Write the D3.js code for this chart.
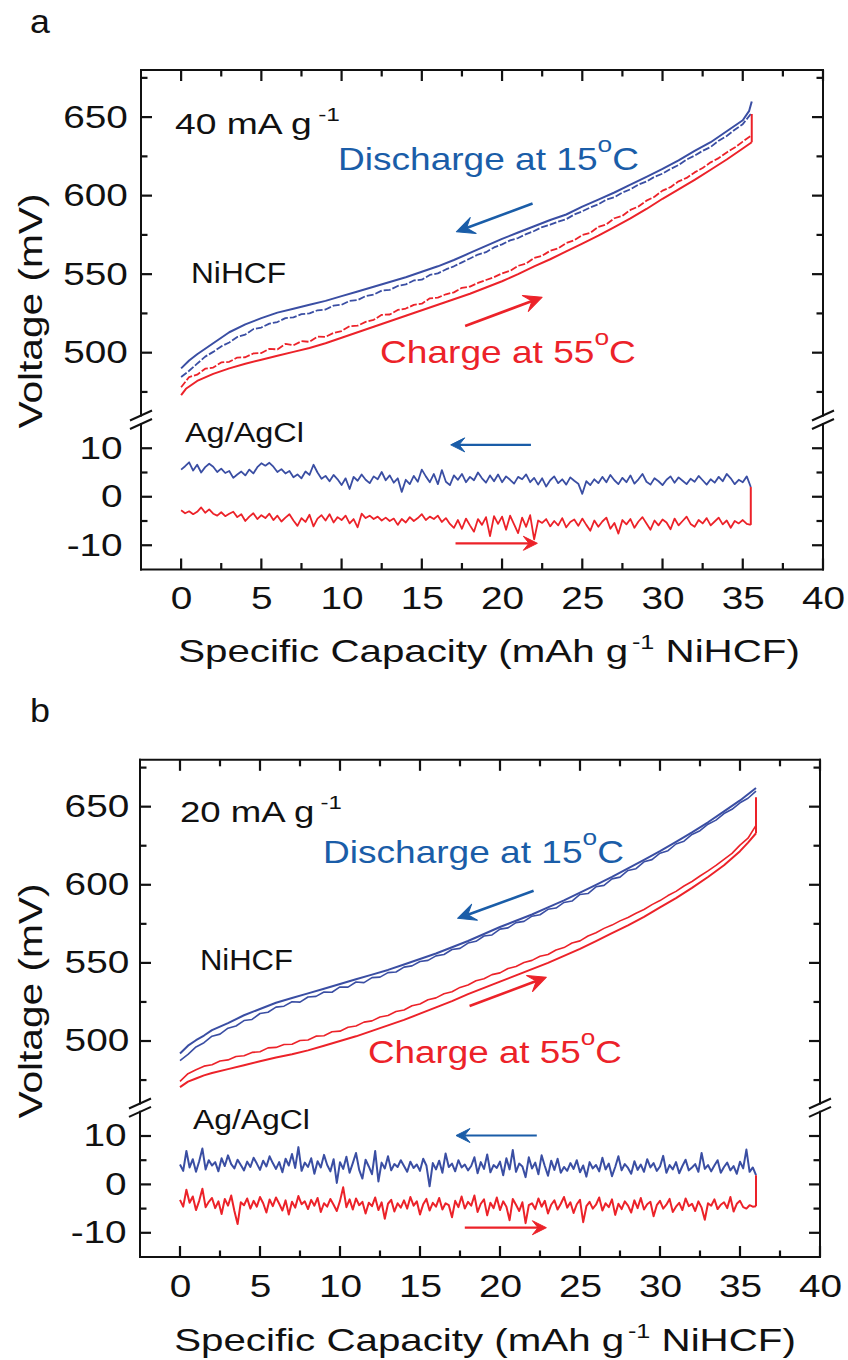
<!DOCTYPE html>
<html>
<head>
<meta charset="utf-8">
<script src="https://cdn.jsdelivr.net/npm/d3@7"></script>
<style>
  body { margin: 0; background: #fff; }
  text { font-family: "Liberation Sans", Arial, sans-serif; }
</style>
</head>
<body>
<svg id="chart" width="848" height="1360"></svg>
<script>
// axis domains and ticks (same for both panels)
const xDomain = [-2.5, 40];
const upDomain = [460, 680];
const loDomain = [-15, 15];
const xTicks = [0, 5, 10, 15, 20, 25, 30, 35, 40];
const xMinor = [2.5, 7.5, 12.5, 17.5, 22.5, 27.5, 32.5, 37.5];
const upTicks = [500, 550, 600, 650];
const upMinor = [475, 525, 575, 625, 675];
const loTicks = [-10, 0, 10];
const loMinor = [-5, 5];

// ---- panel a : 40 mA g-1 ----
const blueSolidA_x = [0, 0.5, 1, 2, 3, 4, 5, 6, 7, 8, 9, 10, 11, 12, 13, 14, 15, 16, 17, 18, 19, 20,
  21, 22, 23, 24, 25, 26, 27, 28, 29, 30, 31, 32, 33, 34, 35, 35.4, 35.56];
const blueSolidA = [490, 495, 499, 506, 513, 518, 522, 525.5, 528, 530.5, 533, 536, 539, 542, 545, 548,
  551.5, 555, 559, 563.5, 568, 572.5, 576.5, 580.5, 584.5, 588, 593, 597.5, 602, 607, 612, 617, 622.5,
  628.5, 634, 641, 648, 654, 660];
const redSolidA_x = [0, 0.3, 1, 2, 3, 4, 5, 6, 7, 8, 9, 10, 11, 12, 13, 14, 15, 16, 17, 18, 19, 20,
  21, 22, 23, 24, 25, 26, 27, 28, 29, 30, 31, 32, 33, 34, 35, 35.56];
const redSolidA = [473, 477, 482, 486.5, 490, 493, 495.5, 498, 500.5, 503, 506, 509.5, 513, 516.5, 520,
  523.5, 527, 530.5, 534, 537.5, 541.5, 545.5, 550, 555, 559.5, 564.5, 569.5, 574.5, 580, 585.5, 591.5,
  598, 604, 610, 616.5, 623, 630, 634];
// noisy (dashed) traces, one value every 0.5 mAh/g from 0
const blueNoisyA = [484.5, 488.5, 493, 497.5, 500.5, 504, 506.5, 510, 511.5, 515,
  516, 518.5, 519.5, 522, 522.5, 524.5, 525, 527, 527.5, 530,
  530.5, 533, 533.5, 536, 537, 539.5, 540, 542.5, 543.5, 546,
  546.5, 549.5, 550.5, 553, 555, 557.5, 560, 562.5, 564, 567,
  569, 571.5, 573, 575.5, 577.5, 580, 581.5, 583.5, 585, 588,
  590, 592.5, 594.5, 597.5, 599, 602, 604, 607, 609, 612,
  614, 617, 619.5, 623, 625.5, 628.5, 631, 635, 638, 642,
  645.5, 652];
const redNoisyA = [478, 484.5, 486, 489.8, 490.5, 493.8, 494.2, 496.9, 497.1, 499.5,
  499.8, 502.4, 502.1, 505.6, 504.7, 507.3, 506.9, 510.2, 510.1, 512.6,
  513.8, 516.9, 517.2, 519.6, 520.9, 524.1, 524.3, 527.2, 528.1, 530.4,
  531.2, 534.6, 535.1, 537.2, 538.4, 541.3, 542.1, 544.4, 546.3, 548.1,
  550.5, 552.1, 555.3, 556.8, 560.4, 561.7, 564.9, 566.4, 569.8, 571.6,
  574.9, 576.3, 580.1, 581.7, 585.6, 587.2, 590.9, 593.1, 596.8, 599.3,
  603.2, 605.4, 609.1, 611.3, 614.8, 617.6, 621.2, 623.9, 627.5, 630.6,
  634.4, 638];
const jumpUpA = [634, 652];
// Ag/AgCl traces, one value every 0.25 mAh/g from 0
const blueLowA = [5.6, 6.3, 7.1, 5.4, 6.6, 5.0, 6.1, 6.8, 6.2, 5.1,
  5.8, 4.9, 5.3, 3.9, 4.6, 5.2, 4.4, 5.6, 4.8, 6.1,
  6.9, 6.4, 7.0, 6.2, 5.1, 5.7, 4.8, 5.3, 4.0, 4.6,
  3.8, 5.2, 4.5, 6.6, 5.0, 3.7, 4.3, 3.2, 4.5, 3.6,
  2.4, 3.8, 1.6, 4.1, 3.3, 4.6, 3.5, 2.8, 4.2, 3.6,
  5.1, 3.4, 4.4, 2.9, 3.8, 1.0, 3.5, 2.6, 4.3, 3.1,
  5.6, 4.2, 3.0, 4.7, 2.6, 5.5, 3.1, 2.4, 4.4, 3.5,
  4.7, 3.0, 4.1, 3.4, 5.0, 3.8, 2.9, 4.4, 3.2, 4.6,
  3.0, 4.2, 3.5, 2.7, 4.1, 3.6, 4.6, 3.0, 3.9, 2.5,
  3.8, 2.1, 3.4, 4.2, 2.8, 3.6, 2.5, 4.0, 3.3, 2.7,
  0.6, 3.2, 2.4, 3.6, 2.8, 4.1, 3.0, 4.5, 3.4, 2.6,
  3.9, 3.0, 4.4, 2.7, 3.6, 4.7, 3.1, 2.5, 3.8, 3.2,
  2.4, 3.5, 4.2, 2.9, 4.0, 3.3, 2.6, 3.7, 3.1, 4.3,
  3.4, 2.5, 3.6, 2.9, 4.1, 3.2, 4.7, 3.8, 2.6, 3.5,
  3.0, 4.2, 2.0];
const redLowA = [-2.8, -3.4, -3.0, -3.6, -3.1, -2.2, -3.3, -2.6, -3.5, -3.9,
  -3.2, -4.0, -3.5, -3.1, -4.2, -3.6, -5.0, -4.1, -3.4, -4.6,
  -3.8, -4.4, -3.5, -4.8, -3.9, -5.1, -4.3, -3.6, -4.9, -6.0,
  -4.4, -5.2, -3.7, -6.1, -4.5, -3.8, -4.9, -3.6, -5.3, -4.2,
  -4.8, -3.9, -5.5, -4.6, -6.3, -3.5, -4.4, -3.9, -4.6, -4.1,
  -4.9, -4.3, -5.0, -4.5, -5.8, -4.6, -5.3, -4.2, -5.0, -4.4,
  -3.6, -4.8, -4.1, -4.6, -3.9, -5.2, -4.4, -5.6, -6.4, -4.8,
  -6.6, -4.5, -5.9, -7.2, -4.6, -5.8, -4.2, -8.1, -4.0, -5.6,
  -4.1, -6.8, -3.9, -5.7, -7.5, -4.3, -6.2, -3.8, -8.8, -4.9,
  -5.4, -4.6, -6.1, -5.0, -5.9, -4.4, -6.3, -5.2, -4.7, -6.0,
  -4.5, -5.8, -7.0, -4.9, -6.2, -5.1, -4.3, -6.6, -5.4, -7.6,
  -4.8, -5.7, -4.6, -6.4, -5.1, -4.2, -5.5, -6.8, -4.9, -5.9,
  -4.7, -5.3, -6.7, -4.5, -5.9, -5.0, -4.1, -5.6, -6.2, -4.8,
  -5.5, -4.4, -5.9, -5.1, -4.3, -5.7, -4.9, -6.4, -5.0, -5.5,
  -4.8, -5.6, -5.8];

// ---- panel b : 20 mA g-1 ----
const blueSolidB_x = [0, 0.5, 1, 1.5, 2, 3, 4, 5, 6, 7, 8, 9, 10, 11, 12, 13, 14, 15, 16, 17, 18, 19,
  20, 21, 22, 23, 24, 25, 26, 27, 28, 29, 30, 31, 32, 33, 34, 35, 36];
const blueSolidB = [492, 497, 500.5, 503.5, 507, 511.5, 516.5, 520.5, 524.5, 527.5, 530.5, 533.5, 536.5,
  539.5, 542.5, 545.5, 549, 552.5, 556, 560, 564, 568.5, 573, 577, 581, 585.5, 590, 595, 600, 605,
  610.5, 616, 621.5, 627.5, 633.5, 640, 647, 654, 662];
const redSolidB_x = [0, 0.5, 1, 1.5, 2, 3, 4, 5, 6, 7, 8, 9, 10, 11, 12, 13, 14, 15, 16, 17, 18, 19,
  20, 21, 22, 23, 24, 25, 26, 27, 28, 29, 30, 31, 32, 33, 34, 35, 35.5, 36];
const redSolidB = [470.5, 474, 476, 478, 479.5, 482, 484.5, 487, 489.5, 491.5, 494, 497, 500, 503, 506.5,
  510, 513.5, 517.5, 521.5, 525.5, 530, 534, 538, 542, 546, 550, 554.5, 559, 564, 569, 574, 579.5,
  585.5, 591.5, 598, 605, 612.5, 621.5, 627, 633];
const blueNoisyB = [487.5, 491.5, 496.2, 498.9, 503.1, 504.4, 508.2, 509.6, 513.1, 513.8,
  517.6, 518.4, 521.7, 522.3, 525.1, 524.9, 528.2, 528.6, 531.4, 531.2,
  534.6, 534.5, 537.8, 537.4, 540.6, 540.9, 543.8, 544.2, 547.3, 548.1,
  550.9, 551.6, 554.5, 555.4, 558.6, 559.3, 562.7, 563.8, 567.2, 567.9,
  571.6, 572.4, 575.8, 576.6, 579.9, 580.8, 584.3, 585.1, 588.7, 589.6,
  593.8, 594.4, 598.7, 599.6, 603.8, 604.9, 609.2, 610.3, 614.7, 616.1,
  620.2, 621.8, 626.1, 627.9, 632.2, 634.6, 638.8, 641.4, 645.6, 648.3,
  652.5, 655.4, 660];
const redNoisyB = [474.2, 479.1, 481.6, 483.9, 484.8, 487.2, 487.9, 490.1, 490.6, 492.7,
  493.1, 495.6, 495.9, 497.8, 497.9, 500.3, 500.6, 503.1, 503.4, 505.9,
  506.3, 508.8, 509.6, 512.1, 512.9, 515.4, 516.3, 518.9, 519.8, 522.6,
  523.7, 526.4, 527.6, 530.2, 531.5, 534.3, 535.9, 538.6, 539.8, 542.5,
  543.6, 546.4, 547.7, 550.3, 551.6, 554.2, 555.4, 558.3, 559.8, 562.7,
  564.1, 567.2, 569.3, 572.1, 574.2, 576.9, 579.1, 581.8, 584.2, 587.3,
  589.9, 593.1, 595.8, 599.2, 602.1, 605.6, 608.9, 612.4, 616.3, 620.1,
  625.4, 629.8, 638];
const jumpUpB = [633, 656];
// Ag/AgCl traces, one value every 0.2 mAh/g from 0
const blueLowB = [4.1, 2.8, 6.9, 3.5, 5.2, 2.6, 4.8, 7.4, 3.1, 5.0,
  3.9, 4.6, 2.7, 5.4, 3.8, 6.0, 4.2, 3.3, 5.1, 4.0,
  2.9, 4.7, 3.6, 5.5, 4.3, 3.0, 4.9, 3.7, 5.8, 4.4,
  3.2, 4.6, 2.5, 5.3, 3.9, 6.3, 3.4, 7.7, 2.8, 4.5,
  3.6, 5.4, 2.2, 4.8, 3.5, 6.1, 4.0, 2.7, 5.2, 0.3,
  4.6, 3.2, 5.7, 2.4, 4.4, 6.5, 3.0, 1.2, 5.1, 3.7,
  2.1, 6.9, 0.6, 4.5, 3.3, 5.8, 2.9, 4.2, 3.6, 5.0,
  3.8, 2.6, 4.7, 3.4, 4.1, 2.8, 5.3, 3.9, -0.4, 4.4,
  3.1, 4.9, 2.4, 6.4, 3.6, 4.3, 2.7, 5.0, 3.5, 4.1,
  2.9, 3.8, 5.6, 2.3, 4.6, 3.2, 6.2, 2.5, 4.0, 3.4,
  4.7, 1.9, 5.4, 3.1, 7.1, 2.6, 4.3, 3.7, 1.5, 5.6,
  3.3, 4.5, 2.1, 6.0, 3.8, 1.8, 4.9, 3.0, 5.3, 2.4,
  3.6, 2.8, 4.4, 3.2, 5.0, 2.5, 3.9, 1.6, 4.6, 3.3,
  4.0, 2.7, 5.5, 3.1, 4.3, 1.7, 3.6, 5.8, 2.9, 4.2,
  3.4, 2.2, 4.8, 3.0, 4.1, 2.6, 5.2, 3.5, 4.4, 2.8,
  3.7, 5.9, 2.4, 4.0, 3.1, 4.6, 2.3, 3.8, 5.1, 2.9,
  3.5, 4.2, 2.6, 6.5, 3.2, 4.0, 2.7, 3.9, 5.0, 2.4,
  3.6, 4.5, 2.9, 3.8, 2.2, 4.7, 3.3, 7.2, 2.6, 3.5,
  1.9];
const redLowB = [-3.2, -4.6, -1.1, -3.8, -2.5, -5.3, -3.4, -0.9, -4.7, -3.6,
  -2.8, -4.9, -3.5, -6.1, -3.0, -4.4, -2.3, -5.5, -8.2, -3.7,
  -4.3, -2.9, -5.0, -3.4, -4.6, -2.6, -3.9, -5.8, -3.1, -4.5,
  -2.7, -4.0, -5.4, -3.3, -6.2, -3.6, -4.8, -2.4, -4.1, -3.5,
  -5.1, -3.2, -4.4, -2.8, -5.7, -3.9, -4.6, -3.0, -4.2, -5.5,
  -3.4, -0.6, -4.7, -3.1, -5.2, -2.9, -4.3, -3.6, -6.0, -3.8,
  -4.5, -2.7, -5.3, -3.7, -7.1, -4.0, -3.2, -5.6, -3.9, -4.8,
  -3.3, -5.0, -2.6, -4.4, -3.5, -6.2, -4.1, -3.0, -5.4, -3.8,
  -4.6, -2.8, -5.2, -3.9, -4.3, -6.8, -3.4, -4.7, -2.5, -5.0,
  -3.6, -4.4, -2.3, -5.7, -4.0, -3.1, -6.4, -3.8, -4.9, -2.7,
  -5.3, -3.5, -4.6, -7.4, -3.0, -4.2, -5.5, -3.7, -8.0, -4.3,
  -3.9, -5.1, -2.9, -4.6, -3.4, -6.0, -4.2, -3.3, -5.2, -4.0,
  -2.6, -4.8, -3.7, -5.9, -4.1, -3.2, -7.8, -4.5, -3.6, -5.0,
  -4.2, -2.7, -5.4, -3.9, -4.7, -3.1, -6.3, -4.0, -5.1, -3.5,
  -4.4, -5.8, -3.3, -4.9, -2.8, -5.2, -4.1, -3.6, -6.6, -4.3,
  -3.4, -5.0, -4.2, -3.0, -5.7, -4.6, -3.8, -5.3, -2.9, -4.5,
  -4.0, -5.5, -3.5, -4.8, -7.3, -3.9, -4.4, -3.1, -5.1, -4.2,
  -3.7, -4.9, -2.6, -5.6, -4.0, -3.4, -4.7, -5.0, -4.3, -4.6,
  -4.5];

// direction arrows, [x0, y0, x1, y1] in data units (tail -> tip)
const arrowsA = { upBlue: [21.9, 595, 17.15, 577], upRed: [17.7, 517, 22.5, 535.3],
  loBlue: [21.8, 10.7, 16.8, 10.7], loRed: [17.1, -9.6, 22.2, -9.6] };
const arrowsB = { upBlue: [22.1, 596.2, 17.35, 578.5], upRed: [18.1, 522.4, 22.9, 540.8],
  loBlue: [22.3, 10.1, 17.25, 10.1], loRed: [17.8, -8.95, 22.9, -8.95] };

const ink = '#111';
const blueLine = '#3a4ea3', blueInk = '#1a5da8', redLine = '#ec2229';
const svg = d3.select('#chart');
svg.append('rect').attr('width', 848).attr('height', 1360).attr('fill', '#fff');

const pairs = (xs, vs) => vs.map((v, i) => [xs[i], v]);
const stepped = (vs, step) => vs.map((v, i) => [i * step, v]);

// stretch a text horizontally so it spans the given width
function fitText(t, width, cx) {
  const w = t.node().getBBox().width;
  const k = width / w;
  t.attr('transform', `translate(${cx},0) scale(${k},1) translate(${-cx},0)`);
}

function richText(g, x, y, size, color, parts, width) {
  const t = g.append('text').attr('x', x).attr('y', y).attr('fill', color).style('font-size', size + 'px');
  parts.forEach(p => {
    const s = t.append('tspan').text(p.t);
    if (p.sup) s.attr('dy', -p.sup).attr('dx', p.dx || 0).style('font-size', p.size + 'px');
    if (p.down) s.attr('dy', p.down);
  });
  fitText(t, width, x);
  return t;
}

function arrow(g, p0, p1, color, lw, hl, hw) {
  const ang = Math.atan2(p1[1] - p0[1], p1[0] - p0[0]);
  const bx = p1[0] - Math.cos(ang) * hl * 0.6, by = p1[1] - Math.sin(ang) * hl * 0.6;
  g.append('line').attr('x1', p0[0]).attr('y1', p0[1]).attr('x2', bx).attr('y2', by)
    .attr('stroke', color).attr('stroke-width', lw);
  g.append('path')
    .attr('d', `M0,0 L${-hl},${-hw} L${-hl * 0.6},0 L${-hl},${hw} Z`)
    .attr('transform', `translate(${p1[0]},${p1[1]}) rotate(${ang * 180 / Math.PI})`)
    .attr('fill', color).attr('stroke', color).attr('stroke-width', 1).attr('stroke-linejoin', 'round');
}

// d3 axis gives the labels; tick marks are drawn as small bars from the same scales
const styleAxis = sel => {
  sel.select('.domain').remove();
  sel.selectAll('.tick line').remove();
  sel.selectAll('.tick text').attr('fill', ink).style('font-size', '31px')
    .attr('transform', 'scale(1.25,1)');
};

function drawPanel(c) {
  const x = d3.scaleLinear().domain(xDomain).range(c.xRange);
  const yUp = d3.scaleLinear().domain(upDomain).range(c.upRange);
  const yLo = d3.scaleLinear().domain(loDomain).range(c.loRange);
  const g = svg.append('g');
  const [x0, x1] = c.xRange;
  const top = c.upRange[1], bottom = c.loRange[0];
  const fmt = d => String(d);

  // curves
  const lineUp = d3.line().x(d => x(d[0])).y(d => yUp(d[1]));
  const lineLo = d3.line().x(d => x(d[0])).y(d => yLo(d[1]));
  const path = (gen, data, color, w, dash) => g.append('path').datum(data).attr('d', gen)
    .attr('fill', 'none').attr('stroke', color).attr('stroke-width', w)
    .attr('stroke-linejoin', 'round').attr('stroke-dasharray', dash || null);

  path(lineUp, pairs(c.redSolidX, c.redSolid), redLine, 2);
  path(lineUp, stepped(c.redNoisy, 0.5), redLine, c.noisyW, c.dash);
  path(lineUp, pairs(c.blueSolidX, c.blueSolid), blueLine, 2);
  path(lineUp, stepped(c.blueNoisy, 0.5), blueLine, c.noisyW, c.dash);
  const xEnd = c.redSolidX[c.redSolidX.length - 1];
  path(lineUp, c.jumpUp.map(v => [xEnd, v]), redLine, 2);

  const redLow = stepped(c.redLow, c.lowStep), blueLow = stepped(c.blueLow, c.lowStep);
  path(lineLo, blueLow, blueLine, c.lowW);
  path(lineLo, redLow, redLine, c.lowW);
  const lastR = redLow[redLow.length - 1], lastB = blueLow[blueLow.length - 1];
  path(lineLo, [lastR, [lastR[0], lastB[1]]], redLine, 2);

  // arrows
  const a = c.arrows;
  const P = (arr, y) => [[x(arr[0]), y(arr[1])], [x(arr[2]), y(arr[3])]];
  arrow(g, ...P(a.upBlue, yUp), blueInk, 2.6, 18, 8.5);
  arrow(g, ...P(a.upRed, yUp), redLine, 2.6, 18, 8.5);
  arrow(g, ...P(a.loBlue, yLo), blueInk, 2.2, 14, 7);
  arrow(g, ...P(a.loRed, yLo), redLine, 2.2, 14, 7);

  // labels
  const L = c.labels;
  richText(g, L.panel[0], L.panel[1], 34, ink, [{ t: c.id }], 20);
  richText(g, L.rate[0], L.rate[1], 29, ink,
    [{ t: c.rate + ' mA g' }, { t: '-1', sup: 13, dx: 5, size: 19 }], L.rate[2]);
  richText(g, L.dis[0], L.dis[1], 31, blueInk,
    [{ t: 'Discharge at 15' }, { t: 'o', sup: 18, size: 22 }, { t: 'C', down: 18 }], L.dis[2]);
  richText(g, L.chg[0], L.chg[1], 31, redLine,
    [{ t: 'Charge at 55' }, { t: 'o', sup: 18, size: 22 }, { t: 'C', down: 18 }], L.chg[2]);
  richText(g, L.ni[0], L.ni[1], 29, ink, [{ t: 'NiHCF' }], L.ni[2]);
  richText(g, L.ag[0], L.ag[1], 27, ink, [{ t: 'Ag/AgCl' }], L.ag[2]);

  // axis titles
  const xt = g.append('text').attr('x', L.xTitle[0]).attr('y', L.xTitle[1]).attr('text-anchor', 'middle')
    .attr('fill', ink).style('font-size', '32px');
  xt.append('tspan').text('Specific Capacity (mAh g');
  xt.append('tspan').text('-1').attr('dy', -13).attr('dx', 3).style('font-size', '20px');
  xt.append('tspan').text(' NiHCF)').attr('dy', 13);
  fitText(xt, L.xTitle[2], L.xTitle[0]);

  const yg = g.append('g').attr('transform', `translate(${L.yTitle[0]},${L.yTitle[1]}) rotate(-90)`);
  const yt = yg.append('text').attr('x', 0).attr('y', 0).attr('text-anchor', 'middle')
    .attr('fill', ink).style('font-size', '33px').text('Voltage (mV)');
  fitText(yt, L.yTitle[2], 0);

  // frame with broken side axes
  const frame = [[x0, top, x1, top], [x0, bottom, x1, bottom],
    [x0, top, x0, c.upRange[0]], [x0, c.loRange[1], x0, bottom],
    [x1, top, x1, c.upRange[0]], [x1, c.loRange[1], x1, bottom]];
  g.append('g').selectAll('line').data(frame).join('line')
    .attr('x1', d => d[0]).attr('y1', d => d[1]).attr('x2', d => d[2]).attr('y2', d => d[3])
    .attr('stroke', ink).attr('stroke-width', 2).attr('stroke-linecap', 'square');
  const slashes = [];
  [x0, x1].forEach(ax => [c.upRange[0], c.loRange[1]].forEach(yy => slashes.push([ax, yy])));
  g.append('g').selectAll('line').data(slashes).join('line')
    .attr('x1', d => d[0] - 11).attr('y1', d => d[1] + 5).attr('x2', d => d[0] + 11).attr('y2', d => d[1] - 5)
    .attr('stroke', ink).attr('stroke-width', 2);

  // tick marks as bars pointing inward: [left, top, width, height]
  const tw = 2.2;
  const bars = [];
  const addX = (vals, len) => vals.forEach(v => {
    bars.push([x(v) - tw / 2, bottom - len, tw, len]);
    bars.push([x(v) - tw / 2, top, tw, len]);
  });
  const addY = (y, vals, len) => vals.forEach(v => {
    bars.push([x0, y(v) - tw / 2, len, tw]);
    bars.push([x1 - len, y(v) - tw / 2, len, tw]);
  });
  addX(xTicks, 11); addX(xMinor, 6.5);
  addY(yUp, upTicks, 11); addY(yUp, upMinor, 6.5);
  addY(yLo, loTicks, 11); addY(yLo, loMinor, 6.5);
  g.append('g').selectAll('rect').data(bars).join('rect')
    .attr('x', d => d[0]).attr('y', d => d[1]).attr('width', d => d[2]).attr('height', d => d[3])
    .attr('fill', ink);

  // tick labels through d3 axes
  g.append('g').attr('transform', `translate(0,${bottom})`)
    .call(d3.axisBottom(x).tickValues(xTicks).tickFormat(fmt).tickSize(-11).tickPadding(17.5)).call(styleAxis);
  g.append('g').attr('transform', `translate(${x0},0)`)
    .call(d3.axisLeft(yUp).tickValues(upTicks).tickFormat(fmt).tickSize(-11).tickPadding(c.padUp)).call(styleAxis);
  g.append('g').attr('transform', `translate(${x0},0)`)
    .call(d3.axisLeft(yLo).tickValues(loTicks).tickFormat(fmt).tickSize(-11).tickPadding(c.padLo)).call(styleAxis);
}

drawPanel({
  id: 'a', rate: '40',
  xRange: [141, 823], upRange: [415.5, 70], loRange: [569.5, 424],
  padUp: 10.5, padLo: 14.7,
  blueSolidX: blueSolidA_x, blueSolid: blueSolidA, redSolidX: redSolidA_x, redSolid: redSolidA,
  blueNoisy: blueNoisyA, redNoisy: redNoisyA, dash: '7,2', noisyW: 1.8, jumpUp: jumpUpA,
  blueLow: blueLowA, redLow: redLowA, lowStep: 0.25, lowW: 1.8, arrows: arrowsA,
  labels: { panel: [30, 33], rate: [175, 134, 165], dis: [338, 170, 301], chg: [380, 363, 256],
    ni: [191, 283, 95], ag: [185, 442, 119], xTitle: [489, 662, 622], yTitle: [42, 311, 235] }
});
drawPanel({
  id: 'b', rate: '20',
  xRange: [140, 820], upRange: [1103.5, 759.8], loRange: [1257, 1111.8],
  padUp: 8.6, padLo: 10.7,
  blueSolidX: blueSolidB_x, blueSolid: blueSolidB, redSolidX: redSolidB_x, redSolid: redSolidB,
  blueNoisy: blueNoisyB, redNoisy: redNoisyB, dash: null, noisyW: 1.6, jumpUp: jumpUpB,
  blueLow: blueLowB, redLow: redLowB, lowStep: 0.2, lowW: 2, arrows: arrowsB,
  labels: { panel: [30, 722], rate: [180, 822, 162], dis: [323, 863, 301], chg: [368, 1063, 254],
    ni: [200, 970, 93], ag: [193, 1129, 117], xTitle: [485, 1351, 622], yTitle: [42, 1001, 235] }
});
</script>
</body>
</html>
